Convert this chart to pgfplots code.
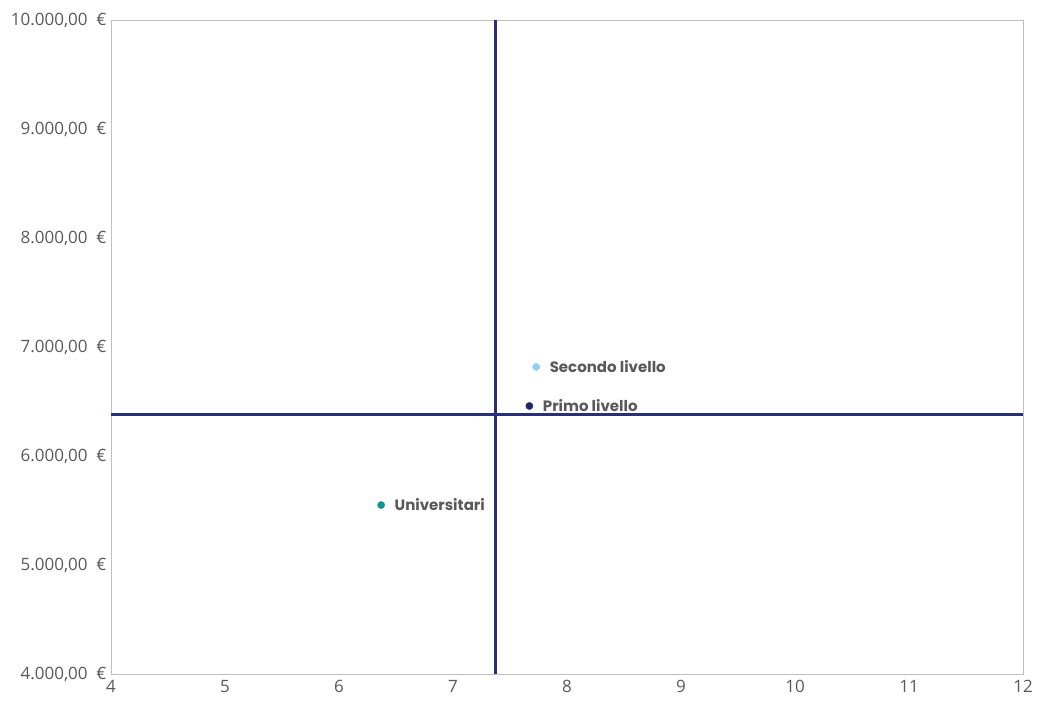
\documentclass[border=0pt]{standalone}
\usepackage{pgfplots}
\pgfplotsset{compat=1.18}
\usepackage{fontspec}
\setmainfont{Open Sans}
\newfontfamily\labfont{Poppins}
\definecolor{tickgray}{HTML}{595959}
\definecolor{framegray}{HTML}{BFBFBF}
\definecolor{qnavy}{HTML}{2A3077}
\definecolor{secondo}{HTML}{8ED1F4}
\definecolor{primo}{HTML}{1F2766}
\definecolor{univ}{HTML}{0E968F}
\begin{document}
\begin{tikzpicture}[x=1pt,y=1pt]
\path[use as bounding box] (-111,-28) rectangle (926,674);
\begin{axis}[
  at={(0,0)}, anchor=south west,
  scale only axis, width=912pt, height=654pt,
  xmin=4, xmax=12, ymin=4000, ymax=10000,
  xtick={4,5,...,12},
  ytick={4000,5000,6000,7000,8000,9000,10000},
  scaled y ticks=false,
  yticklabels={4.000{,}00\ \ €,5.000{,}00\ \ €,6.000{,}00\ \ €,7.000{,}00\ \ €,8.000{,}00\ \ €,9.000{,}00\ \ €,10.000{,}00\ \ €},
  /pgf/number format/assume math mode=true,
  major tick length=0pt,
  axis line style={framegray, line width=0.8pt},
  tick label style={font=\fontsize{17}{19}\selectfont, text=tickgray},
  xticklabel style={yshift=-3pt},
  yticklabel style={xshift=-1pt},
  clip=false,
  nodes near coords,
  point meta=explicit symbolic,
  every node near coord/.style={anchor=west, font=\labfont\bfseries\fontsize{15}{17}\selectfont, text=tickgray, xshift=10pt},
]
\addplot[qnavy, line width=3pt, no marks, nodes near coords={}] coordinates {(7.37,4000) (7.37,10000)};
\addplot[qnavy, line width=3pt, no marks, nodes near coords={}] coordinates {(4,6385) (12,6385)};
\addplot[only marks, mark=*, mark size=3.6pt, mark options={draw=secondo, fill=secondo}] coordinates {(7.73,6817) [Secondo livello]};
\addplot[only marks, mark=*, mark size=3.6pt, mark options={draw=primo, fill=primo}] coordinates {(7.67,6459) [Primo livello]};
\addplot[only marks, mark=*, mark size=3.6pt, mark options={draw=univ, fill=univ}] coordinates {(6.37,5550) [Universitari]};
\end{axis}
\end{tikzpicture}
\end{document}
